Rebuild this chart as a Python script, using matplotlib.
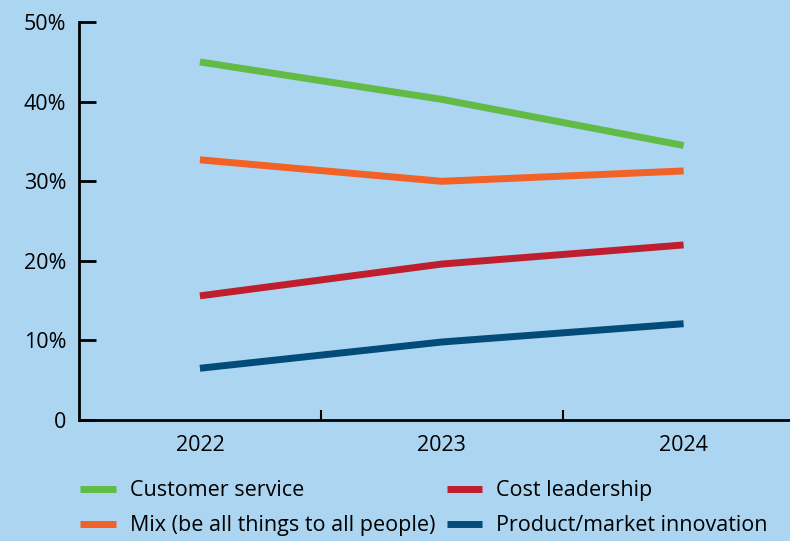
import matplotlib.pyplot as plt

#====================================================================================================

years  = ["2022", "2023", "2024"]
yTicks = [0, 10, 20, 30, 40, 50]
yTickLabels = ["0", "10%", "20%", "30%", "40%", "50%"]

customerService = [45.0, 40.3, 34.5]
mixAll          = [32.7, 30.0, 31.3]
costLeadership  = [15.6, 19.6, 22.0]
productInnov    = [6.5, 9.8, 12.1]

series = [
    ("Customer service",                 customerService, "#62bb46"),
    ("Mix (be all things to all people)", mixAll,          "#f26126"),
    ("Cost leadership",                  costLeadership,  "#be1e2d"),
    ("Product/market innovation",        productInnov,    "#034b78"),
]

#====================================================================================================

def main():
    plt.rcParams['font.family'] = ['Open Sans', 'DejaVu Sans']
    bg = "#abd5f1"

    fig = plt.figure(figsize = (7.9, 5.41), dpi = 100, facecolor = bg)
    axis = fig.add_axes([0.1, 0.2237, 0.9, 0.7353])
    axis.set_facecolor(bg)

    x = list(range(len(years)))
    for label, values, color in series:
        axis.plot(x, values, color = color, linewidth = 5, label = label, solid_capstyle = "butt")

    axis.set_xlim(-0.5, 2.44)
    axis.set_ylim(0, 50)

    axis.set_yticks(yTicks)
    axis.set_yticklabels(yTickLabels)
    axis.set_xticks(x)
    axis.set_xticklabels(years)
    axis.set_xticks([0.5, 1.5], minor = True)

    for side in ["top", "right"]:
        axis.spines[side].set_visible(False)
    for side in ["left", "bottom"]:
        axis.spines[side].set_linewidth(2)

    tickSize = 15.5
    axis.tick_params(axis = "y", direction = "in", length = 12, width = 2, pad = 9, labelsize = tickSize)
    axis.tick_params(axis = "x", which = "major", length = 0, pad = 11, labelsize = tickSize)
    axis.tick_params(axis = "x", which = "minor", direction = "in", length = 7, width = 1.5)

    fig.legend(loc = "lower left", bbox_to_anchor = (0.077, -0.027), ncol = 2, frameon = False,
               fontsize = 15.5, handlelength = 1.65, handletextpad = 0.65, columnspacing = 0.55,
               labelspacing = 0.64)

    fig.savefig("out.png", facecolor = bg)

#====================================================================================================

if __name__ == "__main__":
    main()
